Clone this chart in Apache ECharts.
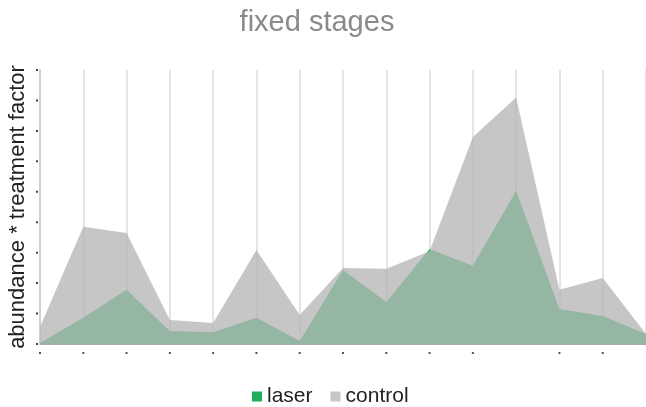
<!DOCTYPE html>
<html>
<head>
<meta charset="utf-8">
<script src="https://cdn.jsdelivr.net/npm/echarts@6/dist/echarts.min.js"></script>
<style>
  html, body { margin: 0; padding: 0; background: #fff; }
  #chart { width: 646px; height: 407px; }
</style>
</head>
<body>
<div id="chart"></div>
<script>
// stage index along x, no labels shown in the original, just tick dots
const stages = ["1", "2", "3", "4", "5", "6", "7", "8", "9", "10", "11", "12", "13", "14", "15"];
const hiddenTicks = [11, 14];

const laser = [0.03, 0.86, 1.78, 0.43, 0.39, 0.86, 0.1, 2.43, 1.38, 3.12, 2.57, 5.03, 1.15, 0.92, 0.33];
const control = [0.56, 3.85, 3.65, 0.79, 0.69, 3.09, 0.95, 2.5, 2.47, 3.05, 6.8, 8.1, 1.78, 2.17, 0.33];

const yMax = 9;

const chart = echarts.init(document.getElementById("chart"));

const option = {
  animation: false,
  title: {
    text: "fixed stages",
    left: 312,
    top: 3,
    textAlign: "center",
    textStyle: {
      fontFamily: "Liberation Sans",
      fontSize: 29,
      fontWeight: "normal",
      color: "#8a8a8a"
    }
  },
  legend: {
    top: 381,
    left: 247,
    itemWidth: 10,
    itemHeight: 10,
    itemGap: 18,
    icon: "rect",
    textStyle: {
      fontFamily: "Liberation Sans",
      fontSize: 21,
      color: "#222"
    },
    data: [
      { name: "laser", itemStyle: { color: "#1eae5c" } },
      { name: "control", itemStyle: { color: "#c6c6c6" } }
    ]
  },
  grid: {
    left: 40,
    right: 0,
    top: 70,
    bottom: 63,
    outerBoundsMode: "none"
  },
  xAxis: {
    type: "category",
    boundaryGap: false,
    data: stages,
    axisLine: { lineStyle: { color: "#aaa", width: 1 } },
    axisTick: { show: false },
    splitLine: { show: true, lineStyle: { color: "#e4e4e4", width: 2 } },
    axisLabel: {
      margin: 8,
      interval: 0,
      formatter: function (v, i) {
        return hiddenTicks.indexOf(i) >= 0 ? "" : "{d|}";
      },
      rich: { d: { width: 2, height: 2, backgroundColor: "#555" } }
    }
  },
  yAxis: {
    type: "value",
    min: 0,
    max: yMax,
    interval: 1,
    name: "abundance * treatment factor",
    nameLocation: "middle",
    nameGap: 11,
    nameMoveOverlap: false,
    nameTextStyle: {
      fontFamily: "Liberation Sans",
      fontSize: 22,
      color: "#222"
    },
    axisLine: { show: true, lineStyle: { color: "#d0d0d0", width: 2 } },
    axisTick: { show: false },
    splitLine: { show: false },
    axisLabel: {
      margin: 2,
      formatter: function () { return "{d|}"; },
      rich: { d: { width: 2, height: 2, backgroundColor: "#444" } }
    }
  },
  series: [
    {
      name: "laser",
      type: "line",
      data: laser,
      showSymbol: false,
      lineStyle: { width: 0 },
      itemStyle: { color: "#1eae5c" },
      areaStyle: { color: "#1eb85e", opacity: 1 },
      z: 2
    },
    {
      name: "control",
      type: "line",
      data: control,
      showSymbol: false,
      lineStyle: { width: 0 },
      itemStyle: { color: "#c6c6c6" },
      areaStyle: { color: "rgb(182,182,182)", opacity: 0.78 },
      z: 3
    }
  ]
};

chart.setOption(option);
</script>
</body>
</html>
